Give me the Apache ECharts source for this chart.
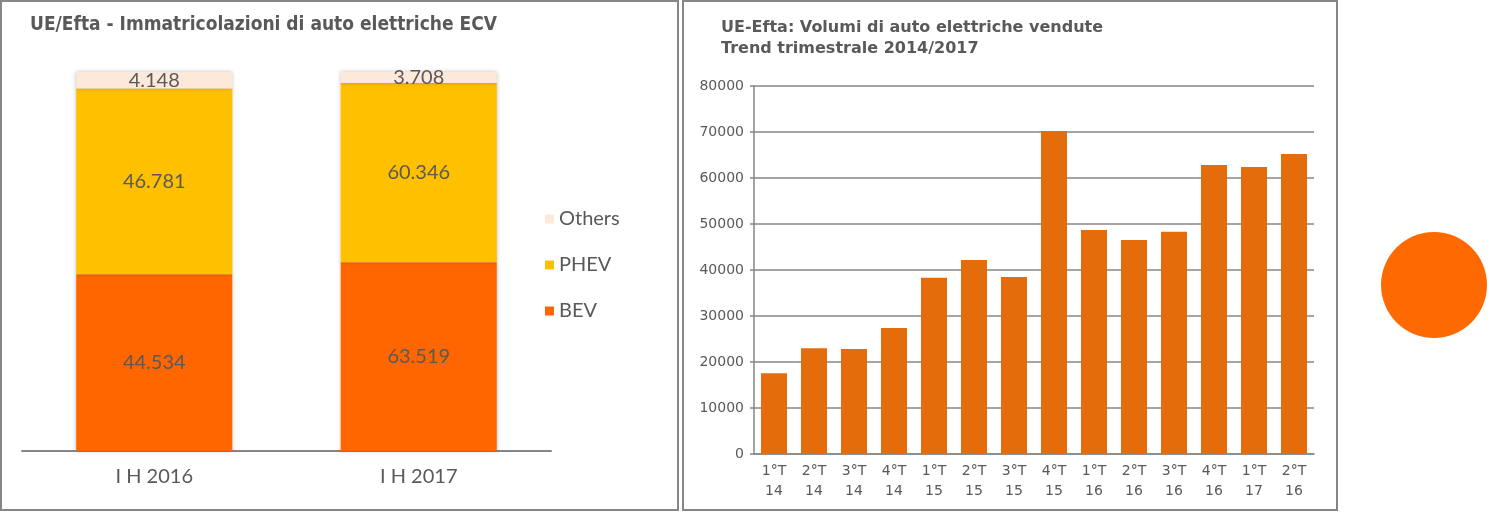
<!DOCTYPE html>
<html>
<head>
<meta charset="utf-8">
<script src="https://cdn.jsdelivr.net/npm/echarts@6/dist/echarts.min.js"></script>
<style>
  html, body {margin: 0; padding: 0; background: #fff;}
  #main {width: 1490px; height: 512px;}
</style>
</head>
<body>
<div id="main"></div>
<script>
// left chart: half-year registrations, 100% stacked
const halves = ['I H 2016', 'I H 2017'];
const bev = [44534, 63519];
const phev = [46781, 60346];
const others = [4148, 3708];

// right chart: quarterly volumes
const quarters = ['1°T\n14', '2°T\n14', '3°T\n14', '4°T\n14', '1°T\n15', '2°T\n15', '3°T\n15',
  '4°T\n15', '1°T\n16', '2°T\n16', '3°T\n16', '4°T\n16', '1°T\n17', '2°T\n16'];
const volumes = [17550, 23000, 22800, 27400, 38300, 42200, 38500, 70200, 48700, 46500, 48300, 62800, 62400, 65200];
const yTicks = [0, 10000, 20000, 30000, 40000, 50000, 60000, 70000, 80000];

const grey = '#595959';
const lineGrey = '#868686';
const totals = halves.map((_, i) => bev[i] + phev[i] + others[i]);
const pct = (arr) => arr.map((v, i) => ({value: v / totals[i] * 100, raw: v}));
const fmt = (n) => String(n).replace(/\B(?=(\d{3})+(?!\d))/g, '.');

const stackSeries = (name, arr, color) => ({
  name: name,
  type: 'bar',
  stack: 'h',
  xAxisIndex: 0,
  yAxisIndex: 0,
  barCategoryGap: '41%',
  data: pct(arr),
  itemStyle: {color: color, shadowBlur: 4, shadowColor: 'rgba(0,0,0,0.25)'},
  label: {
    show: true,
    position: 'inside',
    color: grey,
    fontFamily: 'Lato',
    fontSize: 20,
    formatter: (p) => fmt(p.data.raw)
  }
});

const chart = echarts.init(document.getElementById('main'));
chart.setOption({
  animation: false,
  title: [
    {
      text: 'UE/Efta - Immatricolazioni di auto elettriche ECV',
      left: 30, top: 16, padding: 0,
      textStyle: {color: grey, fontFamily: 'DejaVu Sans Condensed', fontSize: 19, fontWeight: 'bold'}
    },
    {
      text: 'UE-Efta: Volumi di auto elettriche vendute\nTrend trimestrale 2014/2017',
      left: 721, top: 17, padding: 0,
      textStyle: {color: grey, fontFamily: 'DejaVu Sans', fontSize: 16, fontWeight: 'bold', lineHeight: 21}
    }
  ],
  legend: {
    orient: 'vertical',
    left: 540, top: 204,
    itemWidth: 9, itemHeight: 9,
    itemGap: 26,
    icon: 'rect',
    data: ['Others', 'PHEV', 'BEV'],
    textStyle: {color: grey, fontFamily: 'Lato', fontSize: 20}
  },
  grid: [
    {left: 22, top: 72, width: 529, height: 379},
    {left: 754, top: 86, width: 560, height: 368}
  ],
  xAxis: [
    {
      type: 'category', gridIndex: 0, data: halves,
      axisLine: {lineStyle: {color: lineGrey, width: 2}},
      axisTick: {show: false},
      axisLabel: {color: grey, fontFamily: 'Lato', fontSize: 20, margin: 16}
    },
    {
      type: 'category', gridIndex: 1, data: quarters,
      axisLine: {lineStyle: {color: lineGrey, width: 1.5}},
      axisTick: {length: 5, lineStyle: {color: lineGrey, width: 1.5}},
      axisLabel: {color: grey, fontFamily: 'DejaVu Sans', fontSize: 14, lineHeight: 20, margin: 7}
    }
  ],
  yAxis: [
    {type: 'value', gridIndex: 0, min: 0, max: 100, show: false},
    {
      type: 'value', gridIndex: 1, min: yTicks[0], max: yTicks[yTicks.length - 1], interval: 10000,
      axisLine: {show: true, lineStyle: {color: lineGrey, width: 1.5}},
      axisTick: {show: true, length: 4, lineStyle: {color: lineGrey, width: 1.5}},
      splitLine: {lineStyle: {color: lineGrey, width: 1.5}},
      axisLabel: {color: grey, fontFamily: 'DejaVu Sans', fontSize: 14, margin: 10, formatter: (v) => String(v)}
    }
  ],
  graphic: [
    {type: 'rect', shape: {x: 1, y: 1, width: 677, height: 509}, style: {fill: 'none', stroke: lineGrey, lineWidth: 2}},
    {type: 'rect', shape: {x: 683, y: 1, width: 654, height: 509}, style: {fill: 'none', stroke: lineGrey, lineWidth: 2}},
    {type: 'circle', shape: {cx: 1434, cy: 285, r: 53}, style: {fill: '#FF6A00'}}
  ],
  series: [
    stackSeries('BEV', bev, '#FF6600'),
    stackSeries('PHEV', phev, '#FFC000'),
    stackSeries('Others', others, '#FDE9D9'),
    {
      name: 'Volumi',
      type: 'bar',
      xAxisIndex: 1,
      yAxisIndex: 1,
      barCategoryGap: '35%',
      data: volumes,
      itemStyle: {color: '#E46C0A'}
    }
  ]
});
</script>
</body>
</html>
